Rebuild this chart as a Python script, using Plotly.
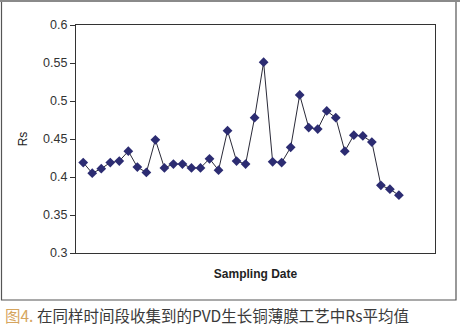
import plotly.graph_objects as go

sample_index = list(range(1, 37))
rs_values = [0.419, 0.405, 0.411, 0.419, 0.421, 0.434, 0.413, 0.406, 0.449, 0.412,
             0.417, 0.417, 0.412, 0.412, 0.424, 0.409, 0.461, 0.421, 0.417, 0.478,
             0.551, 0.420, 0.419, 0.439, 0.508, 0.465, 0.463, 0.487, 0.478, 0.434,
             0.455, 0.454, 0.446, 0.389, 0.384, 0.376]
y_ticks = [0.3, 0.35, 0.4, 0.45, 0.5, 0.55, 0.6]
y_tick_labels = ["0.3", "0.35", "0.4", "0.45", "0.5", "0.55", "0.6"]

W, H = 460, 326
L, R, T, B = 76, 435, 25, 253

def px(x):
    return (x - L) / (R - L)

def py(y):
    return (B - y) / (B - T)

fig = go.Figure()
fig.add_trace(go.Scatter(
    x=sample_index, y=rs_values, mode="lines+markers",
    line=dict(color="#2a2a38", width=1),
    marker=dict(symbol="diamond", size=7.5, color="#2c2c72"),
    showlegend=False, hoverinfo="skip",
))

fig.update_layout(
    width=W, height=H,
    margin=dict(l=L, r=W - R, t=T, b=H - B),
    paper_bgcolor="white", plot_bgcolor="white",
    font=dict(family="Liberation Sans, Arial, sans-serif", color="#333333"),
    xaxis=dict(range=[0.2, 40], showticklabels=False, ticks="", showgrid=False,
               zeroline=False, showline=True, linecolor="#333333", linewidth=1.2, mirror=True,
               title=dict(text="<b>Sampling Date</b>", font=dict(size=12, color="#222222"), standoff=16)),
    yaxis=dict(range=[0.3, 0.6], tickvals=y_ticks, ticktext=y_tick_labels, ticks="outside",
               ticklen=5, tickcolor="#333333", tickfont=dict(size=12.5, color="#333333"),
               showgrid=False, zeroline=False, showline=True, linecolor="#333333",
               linewidth=1.2, mirror=True,
               title=dict(text="Rs", font=dict(size=12, color="#222222"), standoff=12)),
    shapes=[
        dict(type="rect", xref="paper", yref="paper",
             x0=px(1.5), x1=px(456), y0=py(300), y1=py(1.5),
             line=dict(color="#555555", width=1.2), layer="below"),
        dict(type="line", xref="paper", yref="paper",
             x0=px(0), x1=px(460), y0=py(1), y1=py(1),
             line=dict(color="#8a8a8a", width=2)),
    ],
    annotations=[
        dict(xref="paper", yref="paper", x=px(3), y=py(315), xanchor="left", yanchor="middle",
             showarrow=False,
             text="<span style='color:#d6a55e'>图4.</span> 在同样时间段收集到的PVD生长铜薄膜工艺中Rs平均值",
             font=dict(family="Noto Sans CJK SC", size=15.5, color="#3a3a3a")),
    ],
)

fig.write_html("out.html")
